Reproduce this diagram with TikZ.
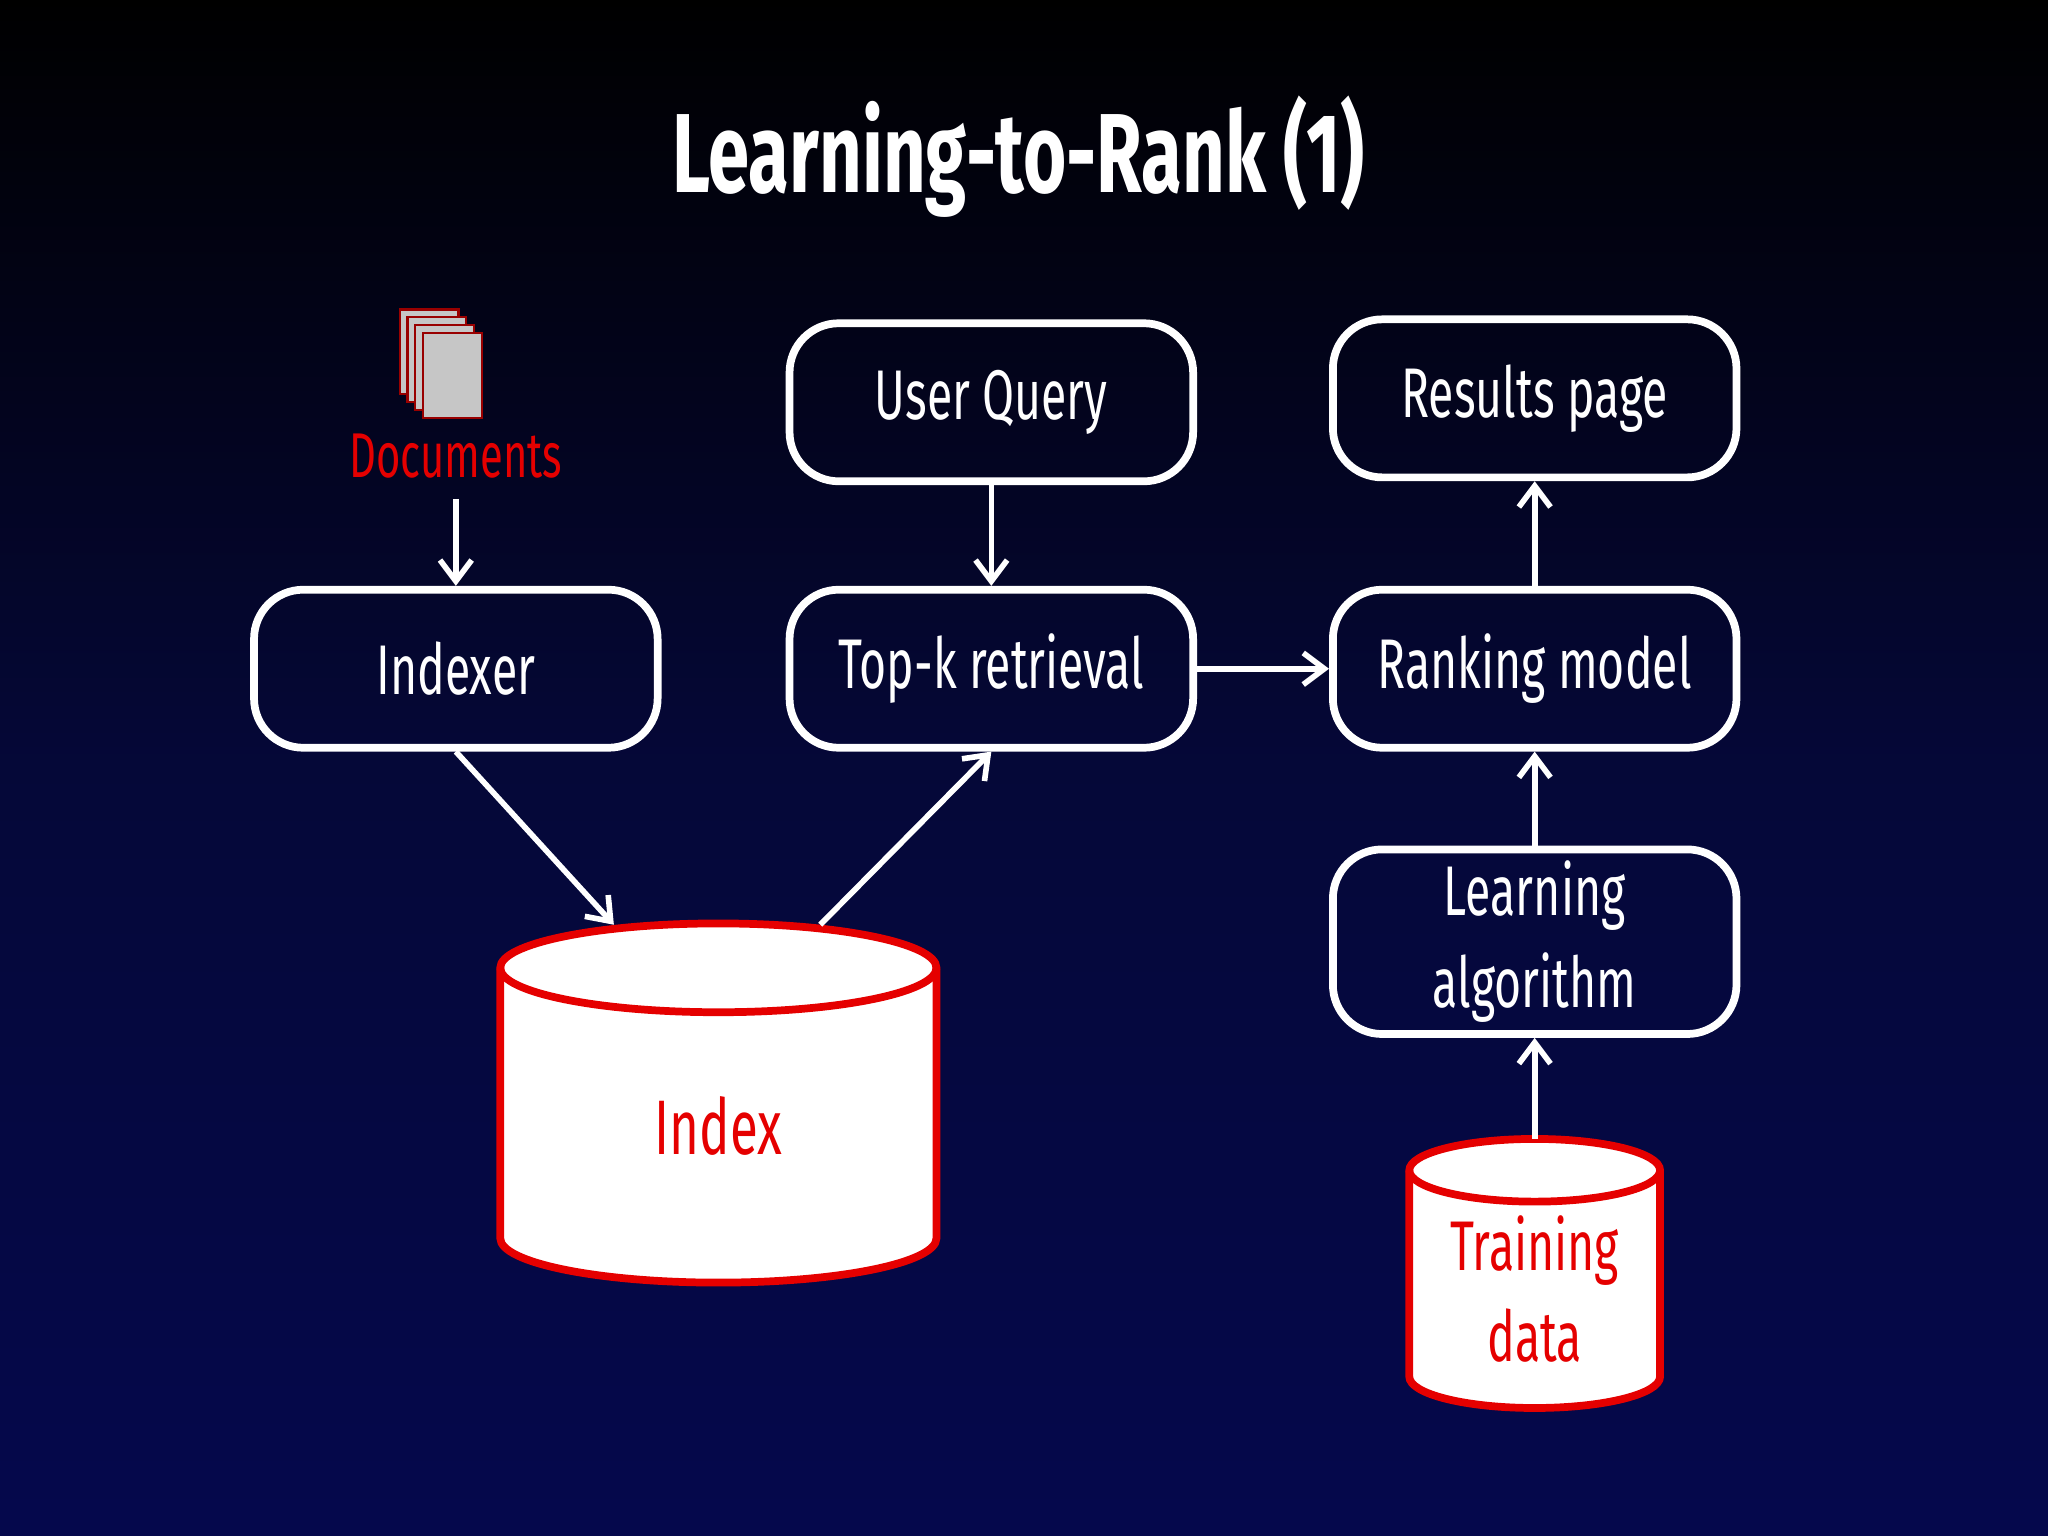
\documentclass[tikz,border=0pt]{standalone}
\usepackage{fontspec}
\setmainfont{Fira Sans}[FakeStretch=0.66]
\usetikzlibrary{arrows.meta}
\begin{document}
\begin{tikzpicture}[x=0.013061cm,y=-0.013061cm,
  box/.style={draw=white,line width=2.2pt,rounded corners=14pt,
    text=white,font=\fontsize{20}{26}\selectfont,minimum width=309*0.013061cm,minimum height=121*0.013061cm,align=center},
  arr/.style={draw=white,line width=1.6pt,-{Straight Barb[length=6pt,width=9pt]}},
  cyl/.style={draw=red!90!black,line width=2.2pt,fill=white},
  redtxt/.style={text=red!90!black,font=\fontsize{20}{26}\selectfont,align=center}]
\useasboundingbox (0,0) rectangle (1568,1176);
\shade[top color=black,bottom color={rgb,1:red,0.02;green,0.03;blue,0.30},middle color={rgb,1:red,0.02;green,0.03;blue,0.22}] (0,0) rectangle (1568,1176);
\node[text=white,font=\fontsize{32}{40}\selectfont\bfseries] (title) at (780,120) {Learning-to-Rank (1)};
% documents icon
\foreach \i in {0,1,2,3}
  \draw[draw=red!60!black,fill=gray!45,line width=0.6pt] (306+\i*6,237+\i*6) rectangle (351+\i*6,302+\i*6);
\node[redtxt,font=\fontsize{18}{24}\selectfont] (docs) at (349,349) {Documents};
% boxes
\node[box] (indexer) at (349,512) {Indexer};
\node[box] (query) at (759,308) {User Query};
\node[box] (topk) at (759,512) {Top-k retrieval};
\node[box] (results) at (1175,305) {Results page};
\node[box] (rank) at (1175,512) {Ranking model};
\node[box] (learn) at (1175,721) {Learning\\algorithm};
% index cylinder
\path[cyl] (383,741) -- (383,948) arc[start angle=180,end angle=0,x radius=167,y radius=34] -- (717,741) arc[start angle=0,end angle=-180,x radius=167,y radius=34] -- cycle;
\draw[cyl,fill=none] (383,741) arc[start angle=180,end angle=0,x radius=167,y radius=34];
\node[redtxt,font=\fontsize{22}{28}\selectfont] (index) at (550,862) {Index};
\coordinate (idxin) at (470,708);
\coordinate (idxout) at (628,708);
% training data cylinder
\path[cyl] (1079,896) -- (1079,1054) arc[start angle=180,end angle=0,x radius=96,y radius=24] -- (1271,896) arc[start angle=0,end angle=-180,x radius=96,y radius=24] -- cycle;
\draw[cyl,fill=none] (1079,896) arc[start angle=180,end angle=0,x radius=96,y radius=24];
\node[redtxt] (train) at (1175,987) {Training\\data};
\coordinate (trtop) at (1175,872);
\coordinate (docsout) at (349,382);
% connectors
\draw[arr] (docsout) -- (indexer.north);
\draw[arr] (indexer.south) -- (idxin);
\draw[arr] (idxout) -- (topk.south);
\draw[arr] (query) -- (topk);
\draw[arr] (topk) -- (rank);
\draw[arr] (rank) -- (results);
\draw[arr] (learn) -- (rank);
\draw[arr] (trtop) -- (learn.south);
\end{tikzpicture}
\end{document}
